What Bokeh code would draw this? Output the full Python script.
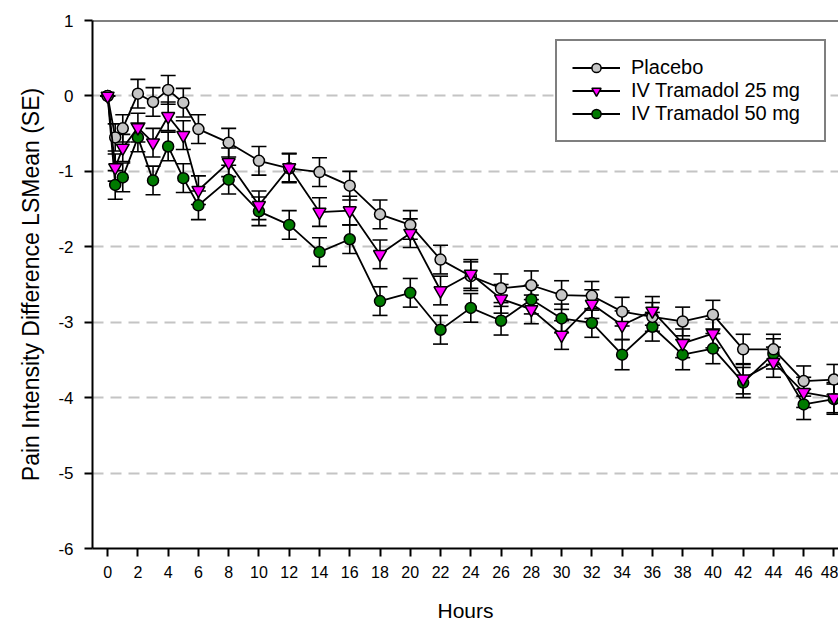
from bokeh.plotting import figure
from bokeh.models import (ColumnDataSource, Whisker, TeeHead, Span, Legend, LegendItem,
                          FixedTicker)
from bokeh.embed import file_html
from bokeh.resources import INLINE

hours = [0, 0.5, 1, 2, 3, 4, 5, 6, 8, 10, 12, 14, 16, 18, 20, 22, 24, 26, 28, 30,
         32, 34, 36, 38, 40, 42, 44, 46, 48]

placebo = [0, -0.55, -0.43, 0.03, -0.08, 0.08, -0.09, -0.44, -0.62, -0.86, -0.96,
           -1.01, -1.19, -1.57, -1.71, -2.17, -2.39, -2.55, -2.51, -2.64, -2.65,
           -2.86, -2.93, -2.99, -2.90, -3.36, -3.36, -3.78, -3.76]
placebo_se = [0, 0.18, 0.18, 0.19, 0.19, 0.19, 0.19, 0.19, 0.19, 0.19, 0.19,
              0.19, 0.19, 0.19, 0.19, 0.19, 0.19, 0.19, 0.19, 0.19, 0.19,
              0.19, 0.19, 0.19, 0.19, 0.2, 0.2, 0.2, 0.2]

tram25 = [0, -0.95, -0.69, -0.42, -0.62, -0.27, -0.52, -1.25, -0.88, -1.45, -0.95,
          -1.54, -1.52, -2.10, -1.82, -2.58, -2.36, -2.69, -2.83, -3.17, -2.76,
          -3.04, -2.85, -3.28, -3.15, -3.75, -3.53, -3.93, -4.00]
tram25_se = [0, 0.18, 0.18, 0.19, 0.19, 0.19, 0.19, 0.19, 0.19, 0.19, 0.19,
             0.19, 0.19, 0.19, 0.19, 0.19, 0.19, 0.19, 0.19, 0.19, 0.19,
             0.19, 0.19, 0.19, 0.19, 0.2, 0.2, 0.2, 0.2]

tram50 = [0, -1.18, -1.08, -0.55, -1.12, -0.67, -1.09, -1.45, -1.11, -1.53, -1.71,
          -2.07, -1.90, -2.72, -2.61, -3.10, -2.81, -2.98, -2.70, -2.95, -3.01,
          -3.43, -3.06, -3.43, -3.35, -3.80, -3.42, -4.09, -4.02]
tram50_se = [0, 0.19, 0.19, 0.19, 0.19, 0.19, 0.19, 0.19, 0.19, 0.19, 0.19,
             0.19, 0.19, 0.19, 0.19, 0.19, 0.19, 0.19, 0.19, 0.19, 0.19,
             0.2, 0.19, 0.2, 0.2, 0.2, 0.2, 0.2, 0.2]

labels = ["Placebo", "IV Tramadol 25 mg", "IV Tramadol 50 mg"]
x_ticks = list(range(0, 50, 2))
y_ticks = [-6, -5, -4, -3, -2, -1, 0, 1]

FONT = "Liberation Sans"

p = figure(width=838, height=626, x_range=(-1.0, 48.3), y_range=(-6, 1),
           output_backend="svg", toolbar_location=None,
           min_border_left=92, min_border_top=20, min_border_bottom=78,
           min_border_right=0)
p.outline_line_color = None
p.background_fill_color = "white"

# grid
p.xgrid.grid_line_color = None
p.ygrid.ticker = FixedTicker(ticks=[-5, -4, -3, -2, -1, 0])
p.ygrid.grid_line_color = "#c4c4c4"
p.ygrid.grid_line_width = 2
p.ygrid.grid_line_dash = "11 7"

# axes
for ax in (p.xaxis[0], p.yaxis[0]):
    ax.axis_line_width = 2
    ax.axis_line_color = "black"
    ax.major_tick_line_width = 2
    ax.major_tick_line_color = "black"
    ax.major_tick_in = 0
    ax.major_tick_out = 8
    ax.minor_tick_line_color = None
    ax.major_label_text_font = FONT
    ax.major_label_text_color = "black"
    ax.axis_label_text_font = FONT
    ax.axis_label_text_font_style = "normal"
    ax.axis_label_text_color = "black"

p.xaxis.ticker = FixedTicker(ticks=x_ticks)
p.yaxis.ticker = FixedTicker(ticks=y_ticks)
p.yaxis.major_label_overrides = {t: str(t) for t in y_ticks}
p.xaxis.major_label_text_font_size = "16px"
p.yaxis.major_label_text_font_size = "17px"
p.xaxis.axis_label = "Hours"
p.yaxis.axis_label = "Pain Intensity Difference LSMean (SE)"
p.xaxis.axis_label_text_font_size = "21px"
p.yaxis.axis_label_text_font_size = "23px"
p.xaxis.major_label_standoff = 9
p.yaxis.major_label_standoff = 11
p.xaxis.axis_label_standoff = 18
p.yaxis.axis_label_standoff = 11

# top border line
p.add_layout(Span(location=1, dimension="width", line_color="black", line_width=2))

series = {
    "Placebo": (placebo, placebo_se, "#c6c6c6", "circle", 11),
    "IV Tramadol 25 mg": (tram25, tram25_se, "#ff00ff", "inverted_triangle", 13),
    "IV Tramadol 50 mg": (tram50, tram50_se, "#007a00", "circle", 11),
}

renderers = {}
for name in ["IV Tramadol 50 mg", "Placebo", "IV Tramadol 25 mg"]:
    vals, se, color, marker, size = series[name]
    src = ColumnDataSource(dict(
        x=hours, y=vals,
        upper=[v + s for v, s in zip(vals, se)],
        lower=[v - s for v, s in zip(vals, se)],
    ))
    lr = p.line("x", "y", source=src, line_color="black", line_width=1.8)
    w = Whisker(base="x", upper="upper", lower="lower", source=src,
                line_color="black", line_width=1.6,
                upper_head=TeeHead(size=15, line_color="black", line_width=1.6),
                lower_head=TeeHead(size=15, line_color="black", line_width=1.6))
    p.add_layout(w)
    sr = p.scatter("x", "y", source=src, marker=marker, size=size,
                   fill_color=color, line_color="black", line_width=1.5)
    renderers[name] = [lr, sr]

legend = Legend(items=[LegendItem(label=n, renderers=renderers[n]) for n in labels],
                location=(463, 406))
legend.margin = 0
legend.padding = 15
legend.spacing = 0
legend.glyph_width = 48
legend.glyph_height = 23
legend.label_height = 23
legend.label_width = 178
legend.label_standoff = 11
legend.label_text_font = FONT
legend.label_text_font_size = "20px"
legend.label_text_color = "black"
legend.border_line_color = "black"
legend.border_line_width = 2
legend.background_fill_color = "white"
legend.background_fill_alpha = 1
p.add_layout(legend, "center")

open("out.html", "w").write(file_html(p, INLINE))
